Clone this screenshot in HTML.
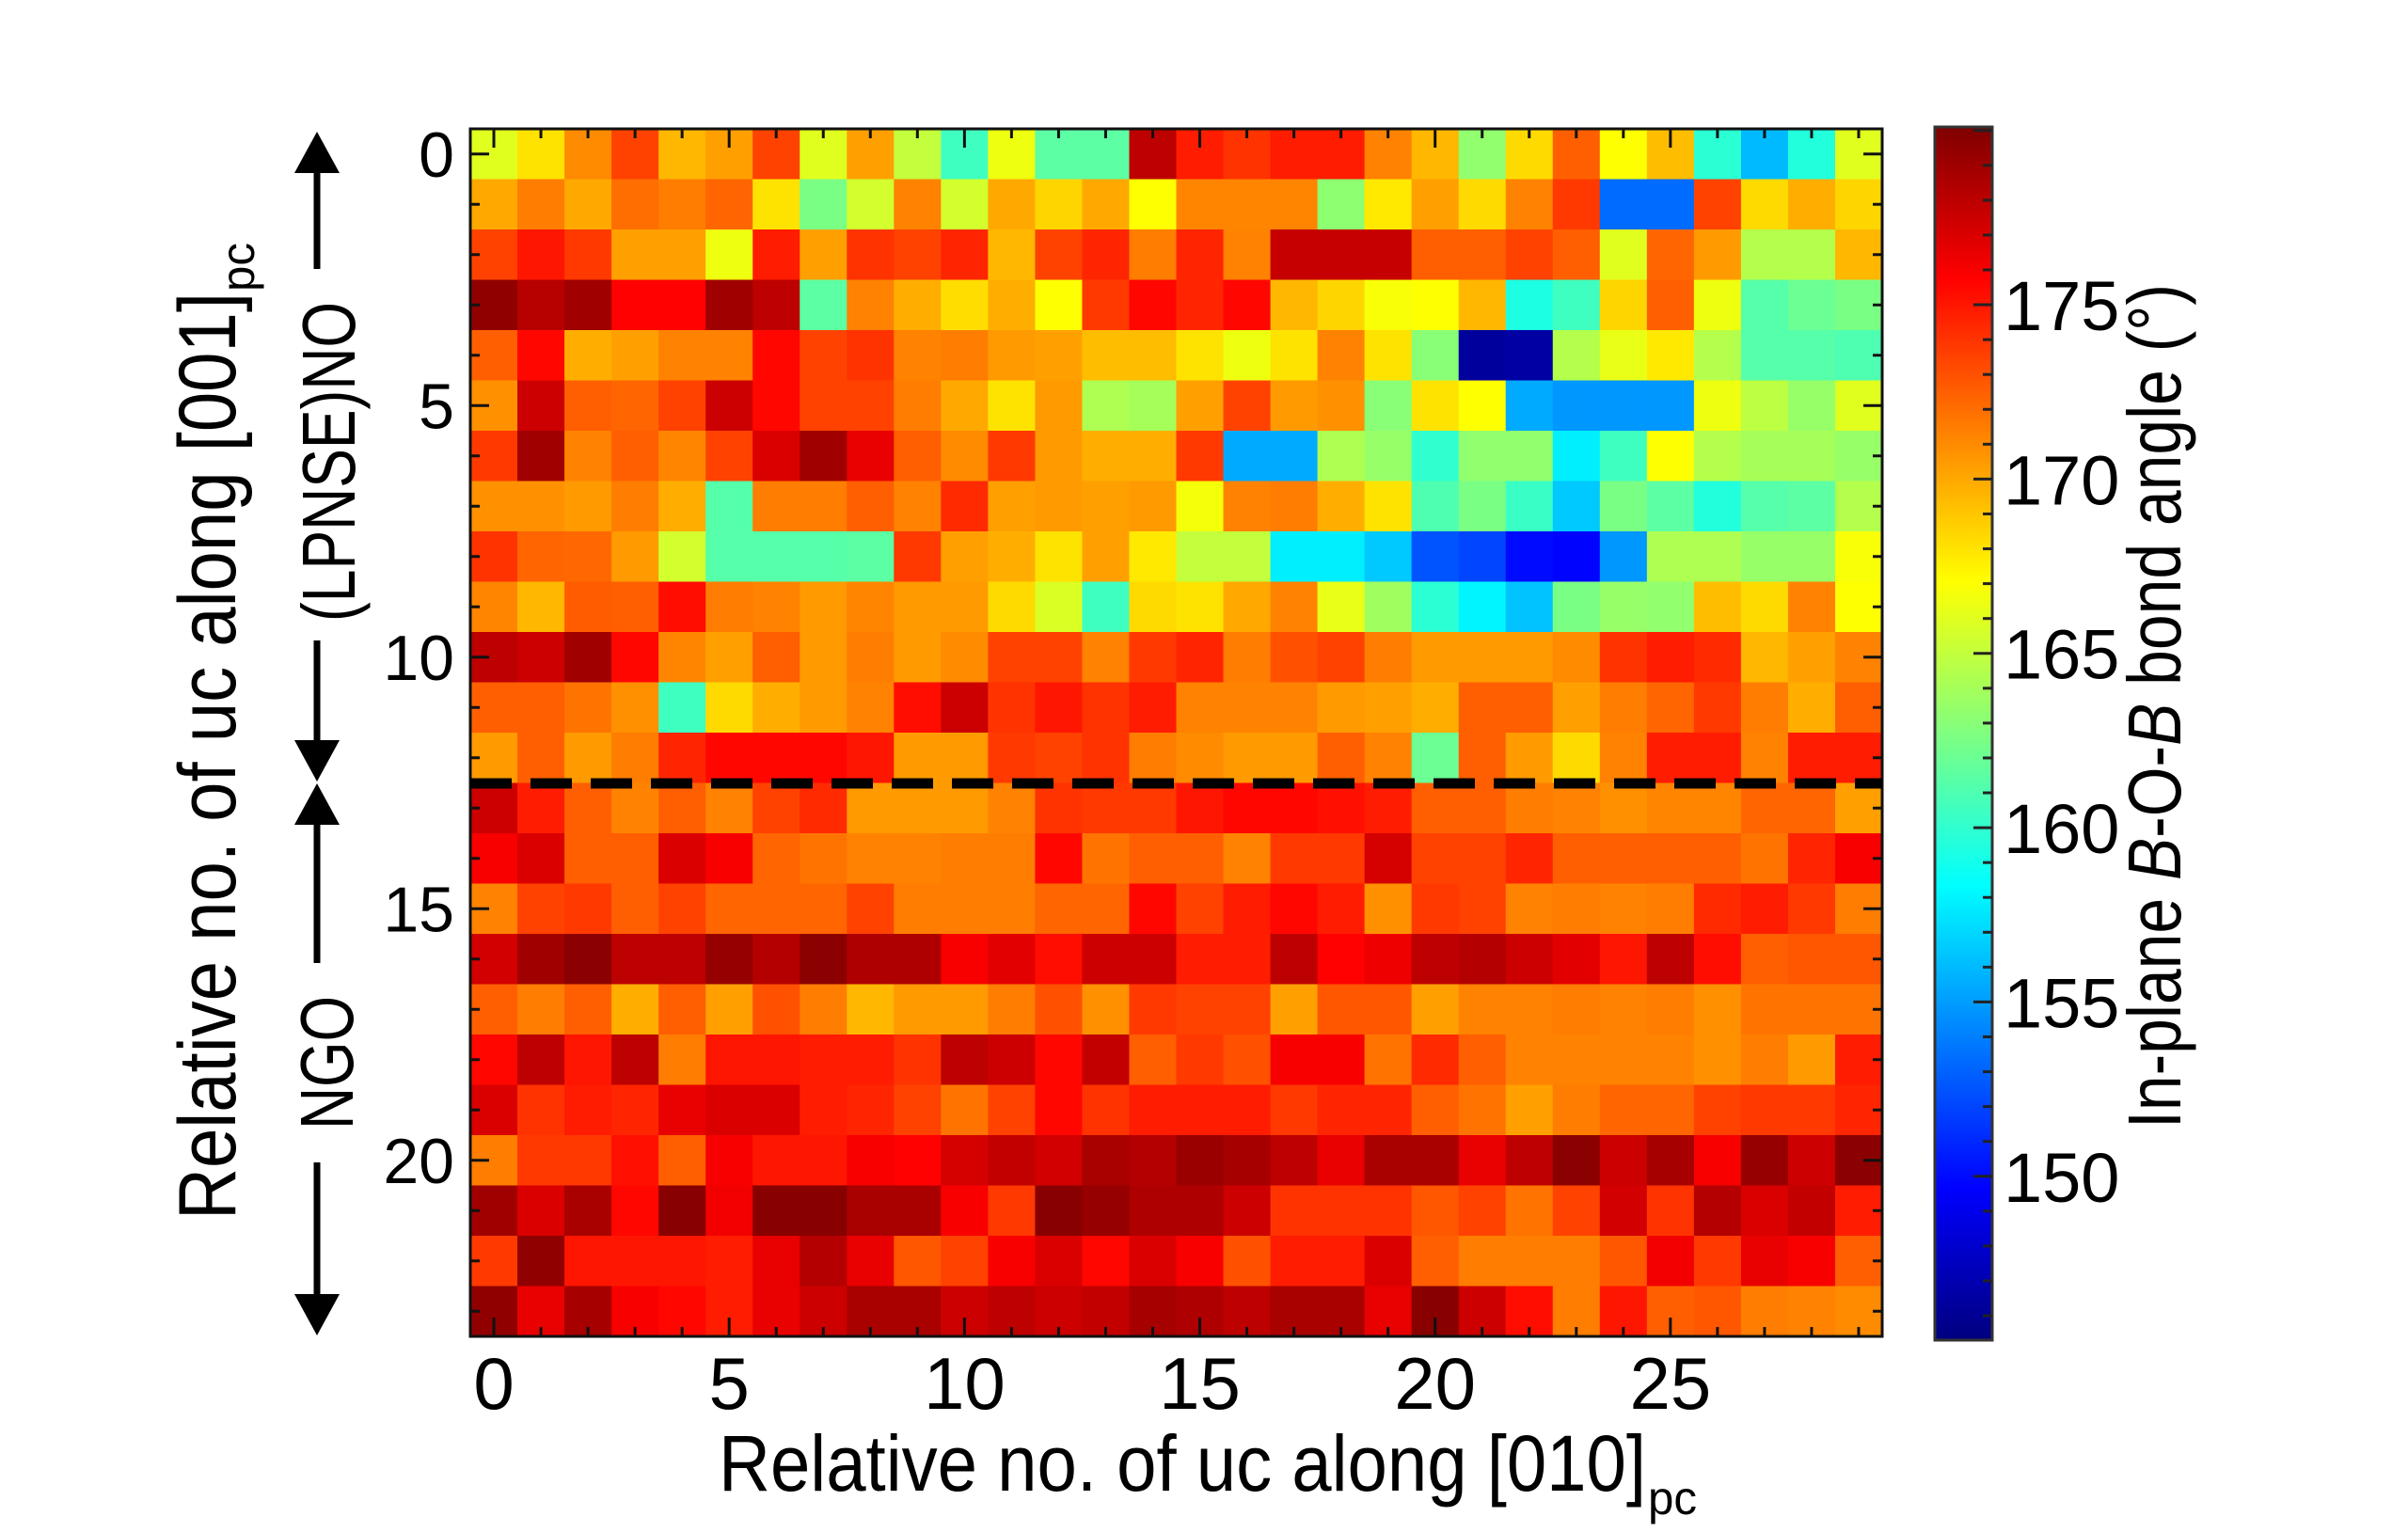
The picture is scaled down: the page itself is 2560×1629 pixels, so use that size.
<!DOCTYPE html>
<html><head><meta charset="utf-8"><style>
html,body{margin:0;padding:0;background:#fff;}
svg{display:block;}
text{font-family:"Liberation Sans",sans-serif;fill:#000;}
</style></head>
<body>
<svg id="chart" width="2560" height="1629" viewBox="0 0 2560 1629" xmlns="http://www.w3.org/2000/svg">
  <g id="cells"></g>
  <g id="ticks"></g>
  <rect x="500" y="137" width="1501" height="1284" fill="none" stroke="#111" stroke-width="3"/>
  <line x1="500" x2="2001" y1="833" y2="833" stroke="#000" stroke-width="11" stroke-dasharray="44 20"/>
  <g id="xlabels"></g>
  <g id="ylabels"></g>
  <text x="764" y="1585" font-size="84" textLength="986" lengthAdjust="spacingAndGlyphs">Relative no. of uc along [010]</text>
  <text x="1752" y="1610" font-size="50" textLength="52" lengthAdjust="spacingAndGlyphs">pc</text>
  <g transform="translate(250,778) rotate(-90)">
    <text x="-519" y="0" font-size="86" textLength="986" lengthAdjust="spacingAndGlyphs">Relative no. of uc along [001]</text>
    <text x="468" y="20" font-size="50" textLength="52" lengthAdjust="spacingAndGlyphs">pc</text>
  </g>
  <g stroke="#000" stroke-width="7">
    <line x1="337" y1="175" x2="337" y2="286"/>
    <line x1="337" y1="681" x2="337" y2="795"/>
    <polygon points="337,140 313,184 361,184" fill="#000" stroke="none"/>
    <polygon points="337,831 313,787 361,787" fill="#000" stroke="none"/>
  </g>
  <g stroke="#000" stroke-width="7">
    <line x1="337" y1="865" x2="337" y2="1024"/>
    <line x1="337" y1="1236" x2="337" y2="1385"/>
    <polygon points="337,833 313,877 361,877" fill="#000" stroke="none"/>
    <polygon points="337,1420 313,1376 361,1376" fill="#000" stroke="none"/>
  </g>
  <g transform="translate(377,491) rotate(-90)">
    <text x="0" y="0" font-size="80" text-anchor="middle" textLength="340" lengthAdjust="spacingAndGlyphs">(LPNSE)NO</text>
  </g>
  <g transform="translate(375,1130) rotate(-90)">
    <text x="0" y="0" font-size="80" text-anchor="middle" textLength="142" lengthAdjust="spacingAndGlyphs">NGO</text>
  </g>
  <defs>
    <linearGradient id="jet" x1="0" y1="1" x2="0" y2="0">
      <stop offset="0" stop-color="#00007f"/>
      <stop offset="0.125" stop-color="#0000ff"/>
      <stop offset="0.375" stop-color="#00ffff"/>
      <stop offset="0.625" stop-color="#ffff00"/>
      <stop offset="0.875" stop-color="#ff0000"/>
      <stop offset="1" stop-color="#7f0000"/>
    </linearGradient>
  </defs>
  <rect x="2057" y="135" width="61" height="1290" fill="url(#jet)" stroke="#333" stroke-width="3"/>
  <g id="cbticks"></g>
  <g transform="translate(2318,751) rotate(-90)">
    <text x="0" y="0" font-size="80" text-anchor="middle" textLength="898" lengthAdjust="spacingAndGlyphs">In-plane <tspan font-style="italic">B</tspan>-O-<tspan font-style="italic">B</tspan> bond angle (°)</text>
  </g>
</svg>
<script>
const xTickLabels = [0, 5, 10, 15, 20, 25];
const yTickLabels = [0, 5, 10, 15, 20];
const cbTickLabels = [150, 155, 160, 165, 170, 175];
const colorMin = 145.3;
const colorMax = 180.1;
const row00 = [166,168,171,173.5,169.5,170.3,173.5,166,170.3,165,160.5,166.5,161.5,161.5,178,174.8,174,174.8,174.8,171.3,169.5,163.3,168.3,172.5,167,169.3,159.8,156,159.5,166];
const row01 = [170,171.5,170,172,171.5,172.3,168,162.5,165.5,171.3,165.5,170,168.5,170,167,171.2,171.2,171.2,163.2,167.8,170.3,168.3,171.3,173.8,153.3,153.3,173.5,168.3,169.8,168.5];
const row02 = [173.5,175,173.8,170.3,170.3,166.5,174.8,170.3,174,173.5,174.5,169.5,173.5,174.5,171.5,174.5,171.3,177.7,177.7,177.7,172.5,172.5,173.5,172.5,166,172.3,170.5,164.5,164.5,169.5];
const row03 = [179.5,178.2,179,175.7,175.7,179,178,161.5,171.3,169.8,168.2,169.8,167,173.8,175.5,174.5,175.5,169.5,168.5,166.8,167,169.5,159.3,160.5,168.5,172.5,166.5,161.3,162,162.5];
const row04 = [172.5,175.5,169.8,170.3,171.3,171.3,175.5,173.5,174,171.3,171.5,170.5,170.3,169.3,169.3,168,166.5,168,171.3,168,163,146.3,146.5,164.5,166.3,167.8,164.5,161.3,161.3,161];
const row05 = [170.8,177.5,172.5,172.3,173.5,177.5,175.5,173.5,173.5,171.5,170,168,170.5,164.3,164,170.3,173.5,170.5,170.8,163,168,167,155.5,154.8,154.8,154.8,166.5,164.8,163.5,166];
const row06 = [173.8,179,171.3,172.5,171.2,173.5,177,179,176.5,172.5,171,173.8,170.5,169.8,169.8,173.8,155.5,155.5,164.3,163.5,160,163.3,163.3,157.8,160.5,167,164.5,164,164,163.5];
const row07 = [170.8,170.8,170.5,171.5,169.8,161.3,171.5,171.5,172.5,171.3,174.3,170.3,170.5,170.3,170.5,166.7,171.3,171.5,169.8,168,161,162.5,160.3,156.5,162.5,161.5,159.5,161.3,161.5,164.5];
const row08 = [174,172.3,172.2,170.5,165.5,161.3,161.3,161.3,161.5,173.8,170.3,169.8,168,170.3,167.8,165,165,157.8,157.8,156.5,152.5,152,150,149.8,154.8,164.3,164.3,163.5,163.5,166.8];
const row09 = [171.2,169.5,172.6,172.5,175.3,171.5,171.3,170.5,171.2,170.5,170.5,168.3,165.8,160.5,168.3,168,170,171.3,166.3,163.8,159.8,158,156.3,162.5,163.5,163.3,169.3,168.3,171.3,167];
const row10 = [178,177.5,179,175.5,171.2,170.3,172.5,170.5,171.5,170.5,171,173.5,173.5,171.3,173.8,174.5,171.5,173,173.5,171.5,170.5,170.5,170.5,171,174,174.8,174.3,169.5,170.3,171.3];
const row11 = [172.5,172.5,171.8,170.8,160.5,168.3,169.8,170.5,171.3,175.3,177.5,174,175,174,174.8,171.3,171.3,171.3,170.5,170.3,169.8,172.5,172.5,170.3,171.5,172.3,173.8,171.5,169.8,172.5];
const row12 = [170.5,172.5,170.5,171.5,174.5,175.5,175.5,175.5,175,170.5,170.5,173.8,173.5,174,171.5,171,170.5,170.5,172.5,171.3,162,172.5,170.5,168.3,171.3,174.8,174.8,171.3,174.8,174.8];
const row13 = [177.5,174.8,172.5,171.3,172.5,171.3,173.5,174.3,170.5,170.5,170.5,171.3,174,173.8,173.8,175,175.5,175.5,175.2,174.8,172.5,172.5,171.5,171.3,170.8,171.2,171.2,172.3,172.3,170.3];
const row14 = [176,177,172.5,172.5,177,176,172.3,171.8,171.3,171.3,171.5,171.5,175.5,171.8,172.5,172.5,171.3,173.8,173.8,177.2,173.5,173.5,174.5,172.5,172.5,172.5,172.5,171.8,174.5,176];
const row15 = [171.3,173.5,173.8,172.5,173.5,172.3,172.3,172.3,173.5,171.5,171.5,171.5,172.3,172.3,175.5,173.5,174.8,175.5,174.8,170.8,173.8,173.5,171.3,171.5,171.3,171.5,174.3,174.8,173.8,171.5];
const row16 = [177.3,179,179.7,178,178,179.3,178.3,179.7,178.5,178.5,176,176.7,175.3,177.5,177.5,174.8,174.8,178,175.7,176.3,178,178.3,177.5,176.7,175,178,175.3,172.5,172.8,172.8];
const row17 = [172.5,171.5,172.5,169.8,172.5,170.3,173,171.5,169.5,170.5,170.5,171.5,173,170.8,173.8,173.5,173.5,170.3,172.8,172.8,170.3,171.3,171.3,171.5,171.3,171.5,170.8,171.8,171.8,171.8];
const row18 = [175.5,178,175,178,171.5,175,175,174.8,174.8,174,178,177.5,175.5,177.8,172.5,173.8,173,176,176,171.8,174.3,172.5,171.3,171.3,171.3,171.3,170.8,171.5,170.5,174.8];
const row19 = [177,174,174.8,174.5,176.5,177,177,174.8,174.5,173.5,171.8,173.5,175.5,174,174.8,174.8,174.8,173.8,174.5,174.5,172.5,171.8,170.3,171.5,172.3,172.3,173.5,173.8,173.8,174.5];
const row20 = [171.5,173.8,173.8,175.2,172.5,176,175,175,176,175.7,177.2,177.8,177.3,178.7,178.3,179.2,178.8,178,176.5,178.7,178.7,176.5,178,179.7,177.5,178.8,176,179.3,177.5,179.7];
const row21 = [179,177,178.7,175.5,179.8,176.2,179.8,179.8,178.7,178.7,176,173.8,179.8,179.3,178.5,178.5,177.5,174,174,174,172.8,173.5,171.8,173.5,177.3,174,178.3,177,177.8,174.8];
const row22 = [173.8,179.5,175,175,175,174.8,176.5,178.3,176.5,172.8,173.5,176,177,175.5,177,176,173,174.8,174.8,177,172.5,171.5,171.5,171.5,172.8,176.2,173.8,176.5,176,172.5];
const row23 = [179.5,176.5,178.8,176,175.5,174.8,176.5,177.5,178.7,178.7,177.5,178,177.5,177.8,178.8,178.5,178,178.7,178.7,176.5,179.8,177.5,175.3,171.5,175,172.5,172.8,171.5,171.3,171];

const rows = [row00,row01,row02,row03,row04,row05,row06,row07,row08,row09,row10,row11,row12,row13,row14,row15,row16,row17,row18,row19,row20,row21,row22,row23];
const NS = "http://www.w3.org/2000/svg";
const X0 = 500, X1 = 2001, Y0 = 137, Y1 = 1421;
const nCols = row00.length, nRows = rows.length;
const cw = (X1 - X0) / nCols, rh = (Y1 - Y0) / nRows;
function xScale(c){ return X0 + c * cw; }
function yScale(r){ return Y0 + r * rh; }
const CB0 = 135, CB1 = 1425;
function cbScale(v){ return CB1 - (v - colorMin) / (colorMax - colorMin) * (CB1 - CB0); }
function clamp(a){ return Math.max(0, Math.min(1, a)); }
function jet(v){
  const f = clamp((v - colorMin) / (colorMax - colorMin));
  const r = clamp(Math.min(4*f - 1.5, -4*f + 4.5));
  const g = clamp(Math.min(4*f - 0.5, -4*f + 3.5));
  const b = clamp(Math.min(4*f + 0.5, -4*f + 2.5));
  return "rgb(" + Math.round(r*255) + "," + Math.round(g*255) + "," + Math.round(b*255) + ")";
}
function mk(tag, attrs, parent){
  const e = document.createElementNS(NS, tag);
  for (const k in attrs) e.setAttribute(k, attrs[k]);
  parent.appendChild(e);
  return e;
}
const cells = document.getElementById("cells");
rows.forEach(function(row, r){
  row.forEach(function(v, c){
    const el = mk("rect", {x: xScale(c), y: yScale(r), width: cw + 0.6, height: rh + 0.6, fill: jet(v)}, cells);
    
    
  });
});
const ticks = document.getElementById("ticks");
for (let c = 0; c < nCols; c++){
  const x = xScale(c + 0.5);
  const len = (c % 5 === 0) ? 20 : 10;
  const t1 = mk("line", {x1: x, x2: x, y1: Y0, y2: Y0 + len, stroke: "#111", "stroke-width": 3}, ticks);
  
  
  const t2 = mk("line", {x1: x, x2: x, y1: Y1, y2: Y1 - len, stroke: "#111", "stroke-width": 3}, ticks);
  
  
}
for (let r = 0; r < nRows; r++){
  const y = yScale(r + 0.5);
  const len = (r % 5 === 0) ? 20 : 10;
  const t1 = mk("line", {x1: X0, x2: X0 + len, y1: y, y2: y, stroke: "#111", "stroke-width": 3}, ticks);
  
  
  const t2 = mk("line", {x1: X1, x2: X1 - len, y1: y, y2: y, stroke: "#111", "stroke-width": 3}, ticks);
  
  
}
const xl = document.getElementById("xlabels");
xTickLabels.forEach(function(v){
  const t = mk("text", {x: xScale(v + 0.5), y: 1498, "font-size": 78, "text-anchor": "middle"}, xl);
  
  
  t.textContent = v;
});
const yl = document.getElementById("ylabels");
yTickLabels.forEach(function(v){
  const t = mk("text", {x: 483, y: yScale(v + 0.5) + 24, "font-size": 68, "text-anchor": "end"}, yl);
  
  
  t.textContent = v;
});
const cbt = document.getElementById("cbticks");
for (let v = 146; v <= 180; v++){
  const y = cbScale(v);
  const len = (v % 5 === 0) ? 20 : 10;
  const t = mk("line", {x1: 2118, x2: 2118 - len, y1: y, y2: y, stroke: "#222", "stroke-width": 3}, cbt);
  
  
}
cbTickLabels.forEach(function(v){
  const t = mk("text", {x: 2130, y: cbScale(v) + 27, "font-size": 74}, cbt);
  
  
  t.textContent = v;
});
</script>
</body></html>
